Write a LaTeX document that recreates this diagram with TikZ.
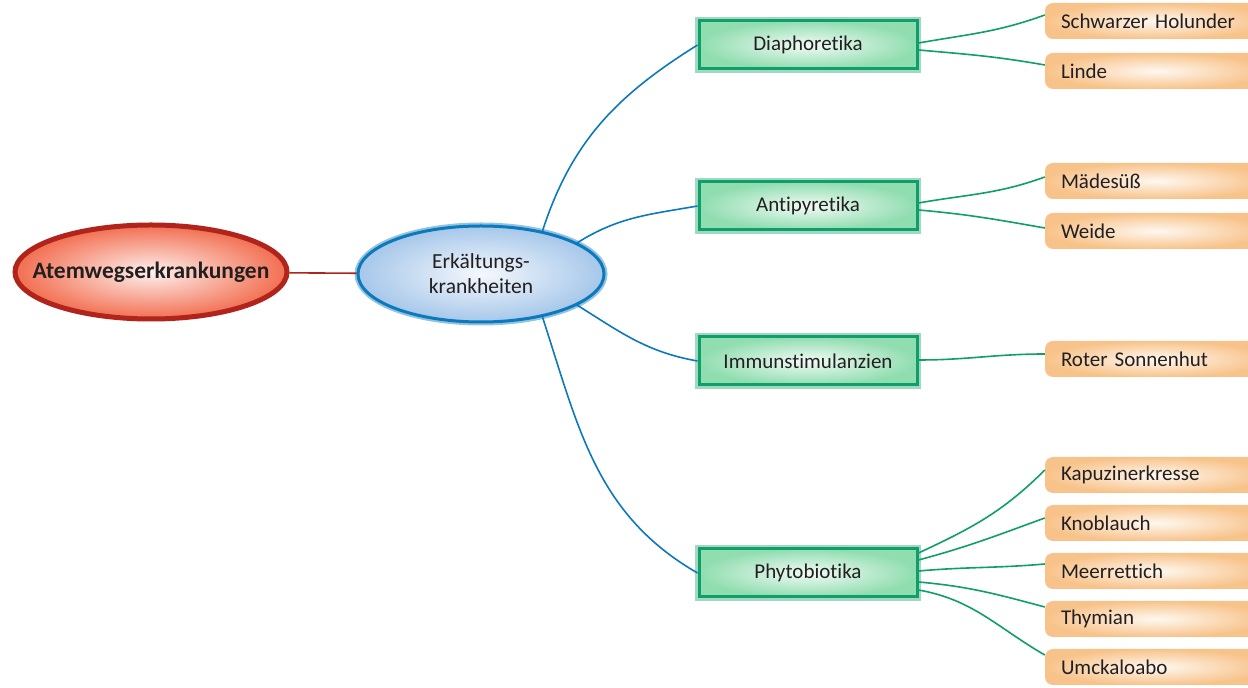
\documentclass[tikz,border=0pt]{standalone}
\usepackage{fontspec}
\setmainfont[Ligatures=NoCommon]{Carlito}
\usepackage{tikz}
\usetikzlibrary{positioning}
\usetikzlibrary{shapes.geometric}
\definecolor{mm-red}{HTML}{B0241B}
\definecolor{mm-salmon}{HTML}{F26E50}
\definecolor{mm-blue}{HTML}{0C79BC}
\definecolor{mm-sky}{HTML}{A6C7EA}
\definecolor{mm-green}{HTML}{109E69}
\definecolor{mm-mint}{HTML}{90DDB0}
\definecolor{mm-orange}{HTML}{F8C38A}
\definecolor{mm-ink}{HTML}{231F20}
\colorlet{root}{mm-red}
\colorlet{topic}{mm-blue}
\colorlet{group}{mm-green}
\tikzset{
  rootnode/.style={ellipse, draw=root, line width=5pt, inner color=mm-salmon!10!white, outer color=mm-salmon, minimum width=272pt, minimum height=94pt, font=\bfseries\fontsize{23.5}{28}\selectfont},
  topicnode/.style={ellipse, draw=topic, line width=3pt, preaction={draw=topic!45, line width=7pt}, inner color=mm-sky!12!white, outer color=mm-sky, minimum width=246pt, minimum height=96pt, align=center, font=\fontsize{21.5}{25}\selectfont},
  groupnode/.style={rectangle, draw=group, line width=3pt, preaction={draw=group!40, line width=8pt}, inner color=mm-mint!12!white, outer color=mm-mint, minimum width=218pt, minimum height=48pt},
  leafnode/.style={rectangle, rounded corners=8pt, inner color=mm-orange!12!white, outer color=mm-orange, minimum height=36pt, text width=190pt, inner xsep=16pt, align=left},
  branch/.style={draw=topic, line width=1.6pt},
  twig/.style={draw=group, line width=1.6pt},
}
% leaf: name, y, text
\newcommand{\mindleaf}[3]{%
\node[leafnode] (#1) at (1156,#2) {#3};
}
% twig: from, yshift at from, to, yshift at to, out, in
\newcommand{\mindtwig}[6]{%
\draw[twig] ([yshift=#2pt]#1.east) to[out=#5,in=#6] ([yshift=#4pt]#3.west);
}
\begin{document}
\begin{tikzpicture}[x=1pt, y=1pt, font=\fontsize{21}{25}\selectfont, text=mm-ink]
\useasboundingbox (0,0) rectangle (1248,688);
% centre
\node[rootnode] (atem) at (151,416) {\makebox[0pt]{Atemwegserkrankungen}};
\node[topicnode] (erk) at (481,414) {Erkältungs-\\krankheiten};
\draw[draw=root, line width=1.6pt] (atem) -- (erk);
% groups
\node[groupnode] (dia) at (808,643) {Diaphoretika};
\node[groupnode] (anti) at (808,482) {Antipyretika};
\node[groupnode] (immun) at (808,327) {Immunstimulanzien};
\node[groupnode] (phyto) at (808,115) {Phytobiotika};
\draw[branch] (erk.35) to[out=72,in=212] (dia.west);
\draw[branch] (erk.18) to[out=32,in=190] (anti.west);
\draw[branch] (erk.-18) to[out=-32,in=170] (immun.west);
\draw[branch] (erk.-35) to[out=-72,in=150] (phyto.west);
% leaves
\mindleaf{holunder}{667}{Schwarzer Holunder}
\mindleaf{linde}{617}{Linde}
\mindleaf{maedesuess}{507}{Mädesüß}
\mindleaf{weide}{457}{Weide}
\mindleaf{sonnenhut}{329}{Roter Sonnenhut}
\foreach \leaf/\y/\txt in {kapuziner/213/Kapuzinerkresse, knoblauch/165/Knoblauch, meerrettich/117/Meerrettich, thymian/69/Thymian, umckaloabo/21/Umckaloabo} {
  \mindleaf{\leaf}{\y}{\txt}
}
\mindtwig{dia}{2}{holunder}{6}{10}{200}
\mindtwig{dia}{-5}{linde}{6}{-5}{170}
\mindtwig{anti}{3}{maedesuess}{4}{10}{200}
\mindtwig{anti}{-4}{weide}{3}{-5}{170}
\mindtwig{immun}{1}{sonnenhut}{5}{0}{180}
\foreach \leaf/\from/\to/\angout/\angin in {kapuziner/20/5/25/225, knoblauch/13/5/15/200, meerrettich/2/7/5/185, thymian/-9/12/-5/165, umckaloabo/-17/12/-10/150} {
  \mindtwig{phyto}{\from}{\leaf}{\to}{\angout}{\angin}
}
\end{tikzpicture}
\end{document}
